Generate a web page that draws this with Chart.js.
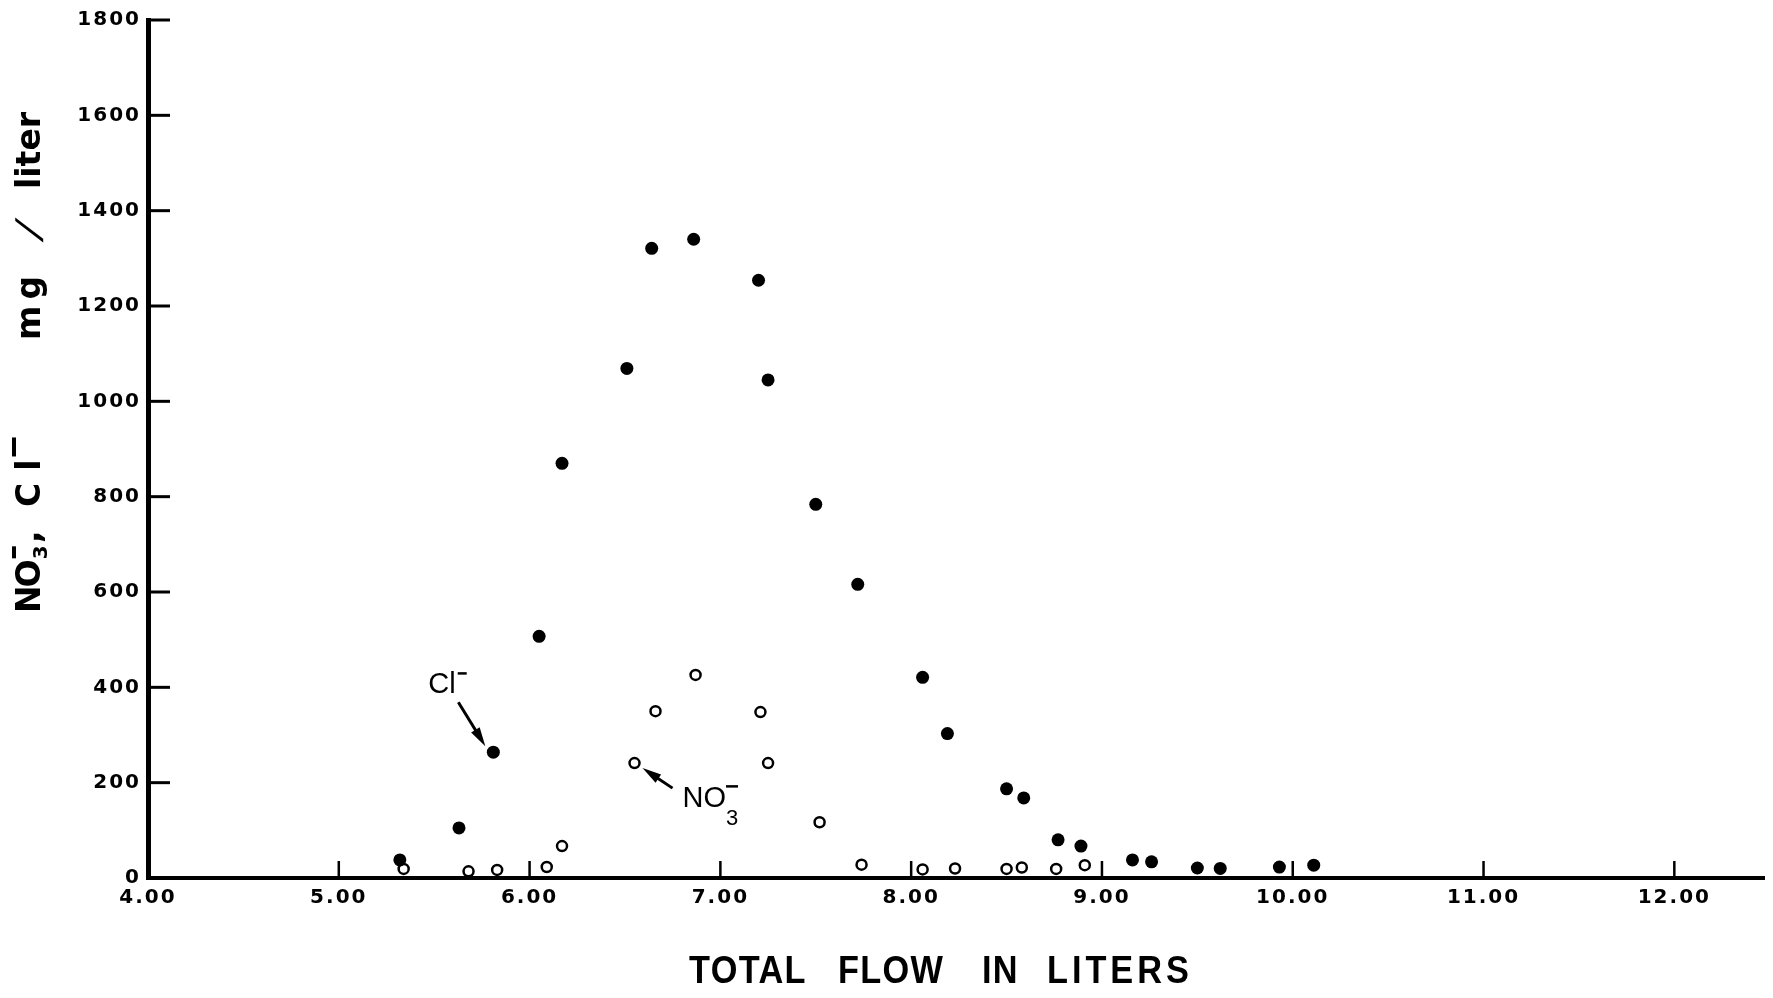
<!DOCTYPE html>
<html>
<head>
<meta charset="utf-8">
<title>NO3- and Cl- versus total flow</title>
<script src="https://cdn.jsdelivr.net/npm/chart.js@4.4.1/dist/chart.umd.min.js"></script>
<style>
  html, body { margin: 0; padding: 0; background: #fff; }
  #wrap { width: 1773px; height: 998px; }
</style>
</head>
<body>
<div id="wrap"><canvas id="chart" width="1773" height="998"></canvas></div>
<script>
"use strict";

// Cl- (filled dots)
const clFlow = [5.32, 5.63, 5.81, 6.05, 6.17, 6.51, 6.64, 6.86, 7.20, 7.25, 7.50, 7.72,
  8.06, 8.19, 8.50, 8.59, 8.77, 8.89, 9.16, 9.26, 9.50, 9.62, 9.93, 10.11];
const clConc = [38, 105, 264, 507, 870, 1069, 1321, 1340, 1254, 1045, 784, 616,
  421, 303, 187, 168, 80, 67, 38, 34, 21, 20, 23, 27];

// NO3- (open circles)
const no3Flow = [5.34, 5.68, 5.83, 6.09, 6.17, 6.55, 6.66, 6.87, 7.21, 7.25, 7.52, 7.74,
  8.06, 8.23, 8.50, 8.58, 8.76, 8.91];
const no3Conc = [19, 14, 17, 23, 67, 241, 350, 426, 348, 241, 117, 28,
  18, 20, 19, 22, 19, 27];

// Axis ticks
const xTicks = [4, 5, 6, 7, 8, 9, 10, 11, 12];
const yTicks = [0, 200, 400, 600, 800, 1000, 1200, 1400, 1600, 1800];

const tickFont = { family: "'DejaVu Sans', sans-serif", size: 20, weight: "bold" };

// Hand-drawn look: inward tick marks, axis titles and the two arrow labels
const inkPlugin = {
  id: "ink",
  beforeDraw(chart) {
    chart.ctx.letterSpacing = "2px";
  },
  beforeDatasetsDraw(chart) {
    const { ctx, chartArea, scales } = chart;
    ctx.save();
    ctx.strokeStyle = "#000";
    ctx.lineWidth = 3;
    yTicks.slice(1).forEach((v) => {
      const y = scales.y.getPixelForValue(v);
      ctx.beginPath();
      ctx.moveTo(chartArea.left, y);
      ctx.lineTo(chartArea.left + 22, y);
      ctx.stroke();
    });
    ctx.lineWidth = 2.5;
    xTicks.slice(1).forEach((v) => {
      const x = scales.x.getPixelForValue(v);
      ctx.beginPath();
      ctx.moveTo(x, chartArea.bottom);
      ctx.lineTo(x, chartArea.bottom - 17);
      ctx.stroke();
    });
    ctx.restore();
  },
  afterDraw(chart) {
    const { ctx, scales } = chart;
    ctx.save();
    ctx.letterSpacing = "0px";
    ctx.fillStyle = "#000";
    ctx.strokeStyle = "#000";
    ctx.textAlign = "left";
    ctx.textBaseline = "alphabetic";

    // y title, rotated (reads bottom to top)
    ctx.save();
    ctx.translate(40, 613);
    ctx.rotate(-Math.PI / 2);
    ctx.font = "bold 33px 'DejaVu Sans'";
    ctx.letterSpacing = "-2px";
    ctx.fillText("NO", 0, 0);
    let w = ctx.measureText("NO").width;
    ctx.letterSpacing = "0px";
    ctx.font = "bold 20px 'DejaVu Sans'";
    ctx.fillText("3", w + 2, 7);
    ctx.fillRect(w + 3, -28, 12, 4);
    ctx.font = "bold 33px 'DejaVu Sans'";
    ctx.fillText(",", 70, 0);
    ctx.letterSpacing = "12px";
    ctx.fillText("Cl", 106, 0);
    ctx.letterSpacing = "0px";
    const clEnd = 106 + ctx.measureText("C").width + 12 + ctx.measureText("l").width;
    ctx.fillRect(clEnd + 3, -28, 19, 4);
    ctx.letterSpacing = "6px";
    ctx.fillText("mg", 273, 0);
    ctx.letterSpacing = "0px";
    ctx.save();
    ctx.translate(372, 0);
    ctx.transform(1, 0, -0.45, 1, 0, 0);
    ctx.font = "bold 34px 'DejaVu Sans'";
    ctx.fillText("/", 0, 0);
    ctx.restore();
    ctx.fillText("liter", 424, 0);
    ctx.restore();

    // x title, slightly condensed
    ctx.save();
    ctx.scale(0.88, 1);
    ctx.font = "bold 39px 'Liberation Sans', sans-serif";
    [["TOTAL", 689, 1.5], ["FLOW", 838, 1.5], ["IN", 982, 1.5], ["LITERS", 1047, 4.5]].forEach(([t, x, ls]) => {
      ctx.letterSpacing = ls + "px";
      ctx.fillText(t, x / 0.88, 983);
    });
    ctx.restore();

    // Cl- label, pointing at the third Cl point
    let px = scales.x.getPixelForValue(clFlow[2]);
    let py = scales.y.getPixelForValue(clConc[2]);
    ctx.font = "29px 'Liberation Sans', sans-serif";
    ctx.fillText("Cl", px - 65, py - 59);
    w = ctx.measureText("Cl").width;
    ctx.fillRect(px - 65 + w + 2, py - 80, 9, 2.5);
    arrow(ctx, px - 35, py - 50, px - 8, py - 6);

    // NO3- label, pointing at the sixth NO3 point
    px = scales.x.getPixelForValue(no3Flow[5]);
    py = scales.y.getPixelForValue(no3Conc[5]);
    ctx.fillText("NO", px + 48, py + 44);
    w = ctx.measureText("NO").width;
    ctx.font = "22px 'Liberation Sans', sans-serif";
    ctx.fillText("3", px + 48 + w, py + 62);
    ctx.fillRect(px + 48 + w, py + 22, 12, 2.5);
    arrow(ctx, px + 38, py + 25, px + 8, py + 5);

    ctx.restore();
  }
};

function arrow(ctx, x1, y1, x2, y2) {
  const a = Math.atan2(y2 - y1, x2 - x1);
  const len = 19;
  const half = 5;
  ctx.lineWidth = 3;
  ctx.beginPath();
  ctx.moveTo(x1, y1);
  ctx.lineTo(x2 - Math.cos(a) * len * 0.7, y2 - Math.sin(a) * len * 0.7);
  ctx.stroke();
  ctx.beginPath();
  ctx.moveTo(x2, y2);
  ctx.lineTo(x2 - len * Math.cos(a) + half * Math.sin(a), y2 - len * Math.sin(a) - half * Math.cos(a));
  ctx.lineTo(x2 - len * Math.cos(a) - half * Math.sin(a), y2 - len * Math.sin(a) + half * Math.cos(a));
  ctx.closePath();
  ctx.fill();
}

new Chart(document.getElementById("chart"), {
  type: "scatter",
  data: {
    datasets: [
      {
        label: "Cl-",
        data: clFlow.map((x, i) => ({ x, y: clConc[i] })),
        pointStyle: "circle",
        pointRadius: 6.5,
        pointBackgroundColor: "#000",
        pointBorderWidth: 0,
        clip: false,
      },
      {
        label: "NO3-",
        data: no3Flow.map((x, i) => ({ x, y: no3Conc[i] })),
        pointStyle: "circle",
        pointRadius: 5,
        pointBackgroundColor: "#fff",
        pointBorderColor: "#000",
        pointBorderWidth: 2.5,
        clip: false,
      },
    ],
  },
  options: {
    responsive: false,
    animation: false,
    devicePixelRatio: 1,
    layout: { padding: { top: 20, right: 9, left: 0, bottom: 0 } },
    plugins: {
      legend: { display: false },
      tooltip: { enabled: false },
    },
    scales: {
      x: {
        type: "linear",
        min: 4,
        max: 12.47,
        afterBuildTicks: (scale) => { scale.ticks = xTicks.map((v) => ({ value: v })); },
        afterFit: (scale) => { scale.height = 120; },
        grid: { display: true, drawOnChartArea: false, drawTicks: false },
        border: { display: true, color: "#000", width: 4 },
        ticks: {
          color: "#000",
          font: tickFont,
          padding: 8,
          maxRotation: 0,
          autoSkip: false,
          callback: (v) => Number(v).toFixed(2),
        },
        title: { display: false },
      },
      y: {
        min: 0,
        max: 1800,
        afterBuildTicks: (scale) => { scale.ticks = yTicks.map((v) => ({ value: v })); },
        afterFit: (scale) => { scale.width = 148; },
        grid: { display: true, drawOnChartArea: false, drawTicks: false },
        border: { display: true, color: "#000", width: 5 },
        ticks: {
          color: "#000",
          font: tickFont,
          padding: 7,
          autoSkip: false,
          callback: (v) => String(v),
        },
        title: { display: false },
      },
    },
  },
  plugins: [inkPlugin],
});
</script>
</body>
</html>
